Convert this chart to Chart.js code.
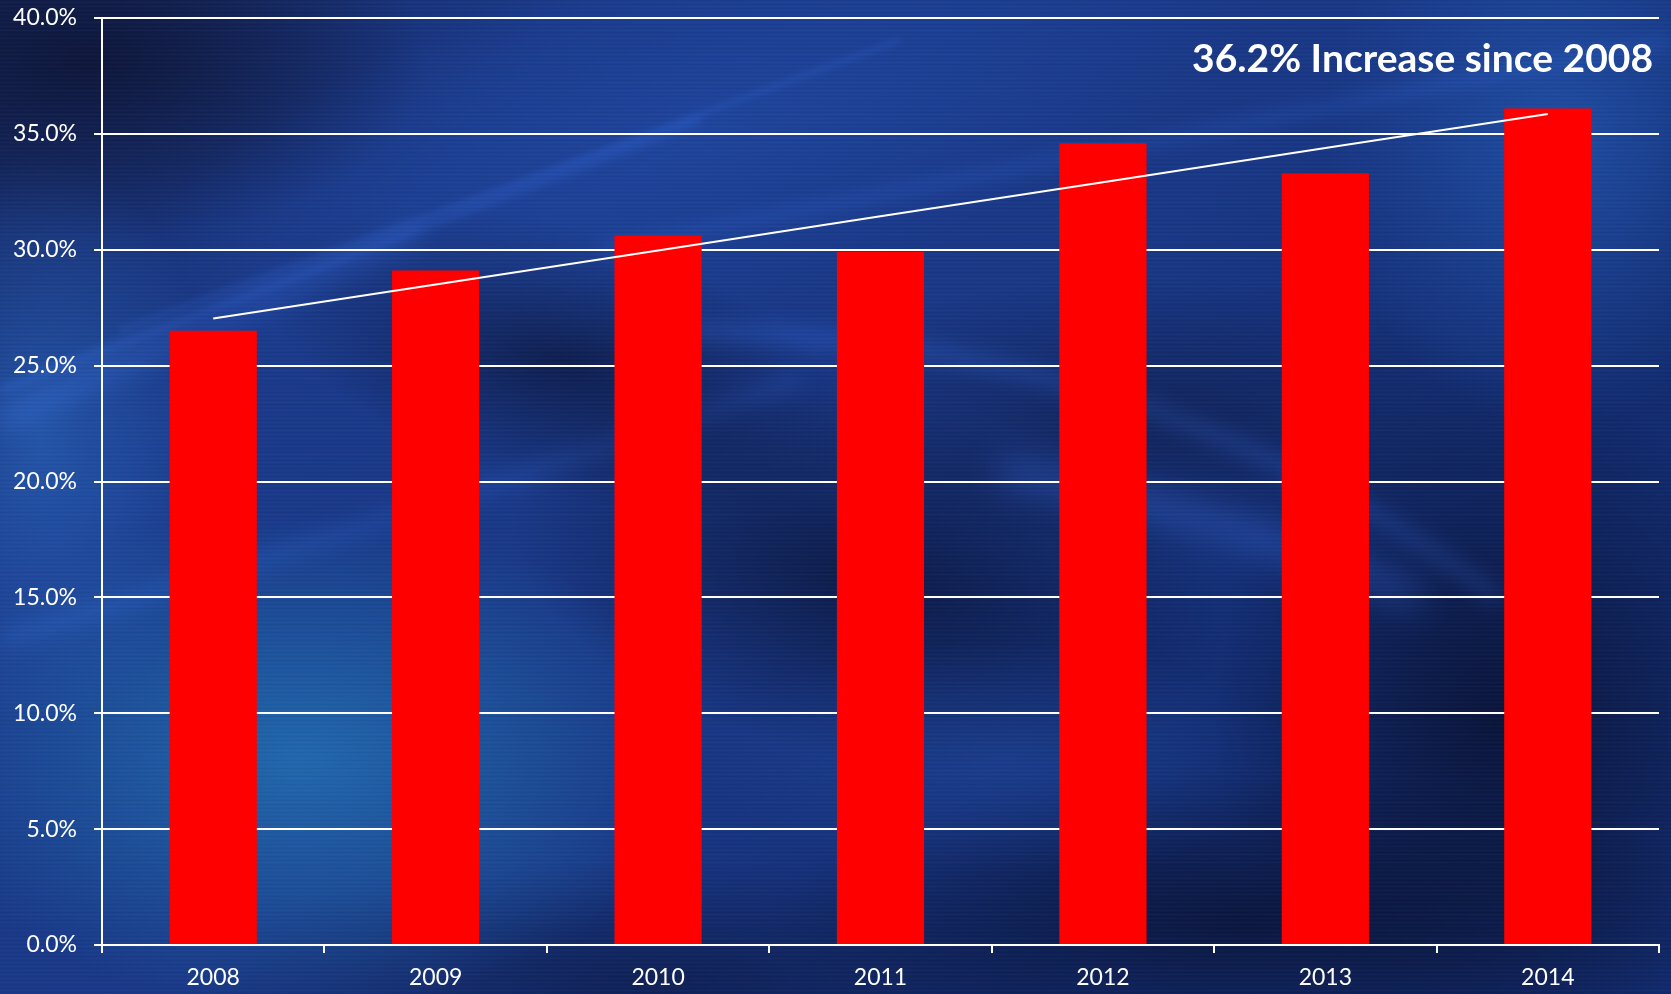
<!DOCTYPE html>
<html>
<head>
<meta charset="utf-8">
<script src="https://cdn.jsdelivr.net/npm/chart.js@4/dist/chart.umd.min.js"></script>
<style>
  html, body { margin: 0; padding: 0; background: #15296a; }
  #wrap { width: 1671px; height: 994px; }
</style>
</head>
<body>
<div id="wrap"><canvas id="c" width="1671" height="994"></canvas></div>
<script>
// Share of respondents by year
const years = ['2008', '2009', '2010', '2011', '2012', '2013', '2014'];
const shares = [26.5, 29.1, 30.6, 29.9, 34.6, 33.3, 36.1];
const yTicks = [0, 5, 10, 15, 20, 25, 30, 35, 40];
const headline = '36.2% Increase since 2008';

// Least-squares linear trend over the yearly shares
function linearTrend(values) {
  const n = values.length;
  const mx = (n - 1) / 2;
  const my = values.reduce((a, b) => a + b, 0) / n;
  let num = 0, den = 0;
  values.forEach((v, i) => { num += (i - mx) * (v - my); den += (i - mx) * (i - mx); });
  const slope = num / den;
  return values.map((_, i) => my + slope * (i - mx));
}
const trend = linearTrend(shares);

// Dark blue streaked backdrop
const backdrop = {
  id: 'backdrop',
  beforeDraw(chart) {
    const ctx = chart.ctx;
    const W = chart.width, H = chart.height;
    ctx.save();
    let g = ctx.createLinearGradient(0, 0, W * 0.6, H);
    g.addColorStop(0, '#16275e');
    g.addColorStop(0.3, '#1b3a8a');
    g.addColorStop(0.7, '#1a3886');
    g.addColorStop(1, '#132c70');
    ctx.fillStyle = g;
    ctx.fillRect(0, 0, W, H);

    const blob = (x, y, r, col, sx, sy, rot) => {
      ctx.save();
      ctx.translate(x, y);
      ctx.rotate(rot || 0);
      ctx.scale(sx || 1, sy || 1);
      const rg = ctx.createRadialGradient(0, 0, 0, 0, 0, r);
      rg.addColorStop(0, col);
      rg.addColorStop(1, col.replace(/[\d.]+\)$/, '0)'));
      ctx.fillStyle = rg;
      ctx.beginPath();
      ctx.arc(0, 0, r, 0, Math.PI * 2);
      ctx.fill();
      ctx.restore();
    };
    // dark pockets
    blob(90, 60, 260, 'rgba(14,20,50,0.85)', 1.3, 0.7);
    blob(560, 360, 220, 'rgba(12,20,55,0.7)', 1.4, 0.6, 0.3);
    blob(870, 580, 260, 'rgba(10,18,50,0.75)', 1.4, 0.7, 0.2);
    blob(1150, 420, 240, 'rgba(14,24,62,0.55)', 1.6, 0.6);
    blob(1500, 720, 320, 'rgba(10,16,45,0.8)', 0.9, 1.1);
    blob(1250, 920, 300, 'rgba(10,16,45,0.75)', 1.6, 0.5);
    blob(650, 980, 300, 'rgba(12,22,60,0.6)', 1.6, 0.4);
    // brighter pockets
    blob(300, 760, 330, 'rgba(36,120,185,0.75)', 1.2, 0.75);
    blob(40, 440, 220, 'rgba(45,110,200,0.55)', 0.8, 1.3);
    blob(1560, 140, 260, 'rgba(40,100,195,0.55)', 0.9, 1.1);
    blob(700, 130, 380, 'rgba(36,80,175,0.5)', 1.6, 0.5, -0.3);
    blob(1000, 760, 200, 'rgba(35,80,170,0.4)', 1.5, 0.6);

    // soft light streaks and arcs
    ctx.globalCompositeOperation = 'lighter';
    const stroke = (pts, w, a, blur) => {
      ctx.strokeStyle = 'rgba(70,130,230,' + a + ')';
      ctx.lineWidth = w;
      ctx.filter = 'blur(' + blur + 'px)';
      ctx.beginPath();
      ctx.moveTo(pts[0], pts[1]);
      if (pts.length === 4) ctx.lineTo(pts[2], pts[3]);
      else ctx.quadraticCurveTo(pts[2], pts[3], pts[4], pts[5]);
      ctx.stroke();
    };
    stroke([0, 390, 700, 120], 5, 0.16, 5);
    stroke([0, 420, 420, 230], 20, 0.12, 12);
    stroke([120, 330, 900, 40], 3, 0.12, 3);
    stroke([600, 250, 1671, 40], 10, 0.1, 8);
    stroke([650, 330, 1150, 330, 1500, 600], 14, 0.16, 10);
    stroke([1000, 470, 1250, 520, 1420, 600], 30, 0.18, 16);
    stroke([0, 640, 400, 520, 800, 380], 14, 0.1, 10);
    ctx.filter = 'none';
    ctx.globalCompositeOperation = 'source-over';

    // fine horizontal brushed streaks
    for (let y = 0; y < H; y += 2) {
      const a = 0.02 + 0.03 * Math.abs(Math.sin(y * 0.37) * Math.cos(y * 0.11));
      ctx.fillStyle = (Math.floor(y / 2) % 2) ? 'rgba(120,170,255,' + a + ')' : 'rgba(0,0,20,' + a + ')';
      ctx.fillRect(0, y, W, 1);
    }
    ctx.restore();
  }
};

// Headline in the top-right corner
const headlineText = {
  id: 'headlineText',
  afterDraw(chart) {
    const ctx = chart.ctx;
    ctx.save();
    ctx.font = 'bold 39px Lato';
    ctx.fillStyle = '#ffffff';
    ctx.textAlign = 'right';
    ctx.textBaseline = 'alphabetic';
    ctx.fillText(headline, 1653, 72);
    ctx.restore();
  }
};

const tickFont = { family: 'Lato', size: 23 };

new Chart(document.getElementById('c'), {
  data: {
    labels: years,
    datasets: [
      {
        type: 'line',
        data: trend,
        borderColor: '#ffffff',
        borderWidth: 2,
        pointRadius: 0,
        fill: false,
        order: 0
      },
      {
        type: 'bar',
        data: shares,
        backgroundColor: '#ff0000',
        borderWidth: 0,
        barPercentage: 1,
        categoryPercentage: 0.392,
        order: 1
      }
    ]
  },
  options: {
    responsive: false,
    animation: false,
    layout: { padding: { top: 18, right: 12, left: 0, bottom: 0 } },
    plugins: { legend: { display: false }, tooltip: { enabled: false } },
    scales: {
      x: {
        offset: true,
        grid: { offset: true, drawOnChartArea: false, drawTicks: true, tickLength: 8, color: '#ffffff', lineWidth: 2 },
        border: { color: '#ffffff', width: 2 },
        ticks: { color: '#ffffff', font: tickFont, padding: 11, maxRotation: 0 },
        afterFit(scale) { scale.height = 49; }
      },
      y: {
        min: yTicks[0],
        max: yTicks[yTicks.length - 1],
        afterBuildTicks(scale) { scale.ticks = yTicks.map(v => ({ value: v })); },
        grid: { color: '#ffffff', lineWidth: 2, tickLength: 8, drawTicks: true },
        border: { color: '#ffffff', width: 2 },
        ticks: {
          color: '#ffffff',
          font: tickFont,
          padding: 17,
          callback: v => v.toFixed(1) + '%'
        },
        afterFit(scale) {
          scale.width = 102;
          scale.paddingTop = 0;
          scale.paddingBottom = 0;
        }
      }
    }
  },
  plugins: [backdrop, headlineText]
});
</script>
</body>
</html>
